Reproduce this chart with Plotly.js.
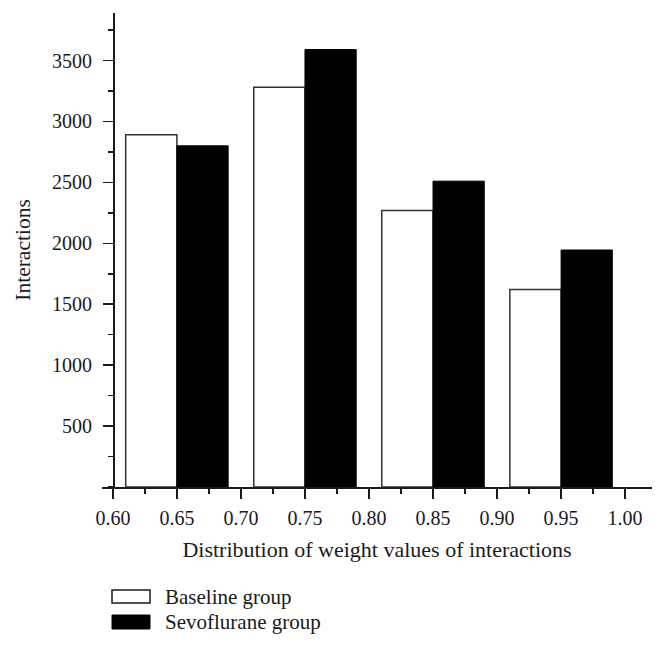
<!DOCTYPE html>
<html>
<head>
<meta charset="utf-8">
<script src="https://cdn.plot.ly/plotly-3.0.1.min.js"></script>
<style>
  body { margin: 0; background: #fff; }
  #chart { width: 666px; height: 649px; }
</style>
</head>
<body>
<div id="chart"></div>
<script>
// Groupes (centre de chaque paire de barres)
const groupCenters = [0.65, 0.75, 0.85, 0.95];
// Valeurs
const baselineValues = [2890, 3280, 2270, 1620];
const sevoValues = [2800, 3590, 2510, 1945];
const seriesNames = ['Baseline group', 'Sevoflurane group'];

const FONT = 'Liberation Serif, Times New Roman, serif';
const INK = '#1a1a1a';

// Conversion pixels -> coordonnées papier (zone de tracé)
const M = { l: 102, r: 14, t: 13, b: 162 };
const W = 666, H = 649;
const plotW = W - M.l - M.r, plotH = H - M.t - M.b;
const px = x => (x - M.l) / plotW;
const py = y => (H - M.b - y) / plotH;

const xRange = [0.5915, 1.021];

const baseline = {
    x: groupCenters,
    y: baselineValues,
    type: 'bar',
    name: seriesNames[0],
    width: 0.04,
    offset: -0.04,
    marker: { color: '#ffffff', line: { color: '#333333', width: 1.5 } },
    hoverinfo: 'x+y'
};

const sevo = {
    x: groupCenters,
    y: sevoValues,
    type: 'bar',
    name: seriesNames[1],
    width: 0.04,
    offset: 0,
    marker: { color: '#000000', line: { color: '#000000', width: 1 } },
    hoverinfo: 'x+y'
};

const layout = {
    width: W,
    height: H,
    margin: M,
    paper_bgcolor: '#ffffff',
    plot_bgcolor: '#ffffff',
    showlegend: false,
    barmode: 'overlay',
    font: { family: FONT, size: 20, color: INK },
    xaxis: {
        range: xRange,
        showgrid: false,
        zeroline: false,
        showline: true,
        linecolor: INK,
        linewidth: 1.5,
        ticks: 'outside',
        ticklen: 10,
        tickwidth: 1.5,
        tickcolor: INK,
        tick0: 0.6,
        dtick: 0.05,
        tickformat: '.2f',
        tickfont: { size: 20 },
        ticklabelstandoff: 2,
        minor: { tick0: 0.6, dtick: 0.025, ticks: 'outside', ticklen: 5, tickwidth: 1.5, tickcolor: INK },
        title: { text: 'Distribution of weight values of interactions', standoff: 14, font: { family: FONT, size: 22 } }
    },
    yaxis: {
        range: [0, 3890],
        anchor: 'free',
        position: px(113),
        showgrid: false,
        zeroline: false,
        showline: true,
        linecolor: INK,
        linewidth: 1.5,
        ticks: 'outside',
        ticklen: 10,
        tickwidth: 1.5,
        tickcolor: INK,
        tickvals: [500, 1000, 1500, 2000, 2500, 3000, 3500],
        tickfont: { size: 20 },
        ticklabelstandoff: 7,
        minor: { tick0: 0, dtick: 250, ticks: 'outside', ticklen: 5, tickwidth: 1.5, tickcolor: INK },
        title: { text: 'Interactions', standoff: 14, font: { family: FONT, size: 21.5 } }
    },
    // Légende dessinée à la main (boîtes larges comme sur l'original)
    shapes: [
        { type: 'rect', xref: 'paper', yref: 'paper', x0: px(112), x1: px(150), y0: py(603), y1: py(590),
          fillcolor: '#ffffff', line: { color: INK, width: 1.5 } },
        { type: 'rect', xref: 'paper', yref: 'paper', x0: px(112), x1: px(150), y0: py(629), y1: py(615),
          fillcolor: '#000000', line: { color: '#000000', width: 1 } }
    ],
    annotations: [
        { xref: 'paper', yref: 'paper', x: px(163), y: py(597), text: seriesNames[0],
          showarrow: false, xanchor: 'left', yanchor: 'middle', font: { family: FONT, size: 21, color: INK } },
        { xref: 'paper', yref: 'paper', x: px(163), y: py(622), text: seriesNames[1],
          showarrow: false, xanchor: 'left', yanchor: 'middle', font: { family: FONT, size: 21, color: INK } }
    ]
};

Plotly.newPlot('chart', [baseline, sevo], layout, { displayModeBar: false, staticPlot: true });
</script>
</body>
</html>
